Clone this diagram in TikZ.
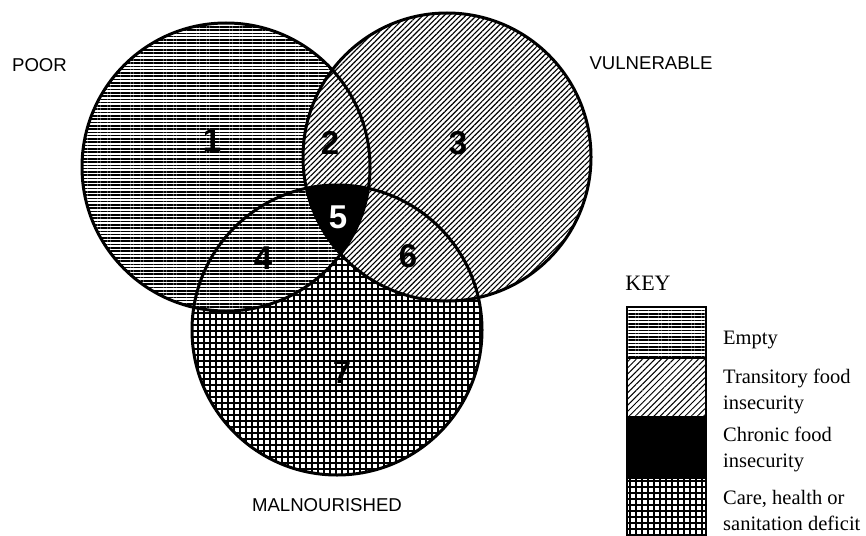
\documentclass[tikz,border=0pt]{standalone}
\usepackage{fontspec}
\setmainfont{Liberation Serif}
\setsansfont{Liberation Sans}
\usetikzlibrary{patterns.meta}
\begin{document}
\begin{tikzpicture}[x=1pt,y=-1pt,
  hpat/.style={preaction={fill=white},pattern={Lines[angle=0,distance=3.3pt,line width=1.6pt]}},
  dpat/.style={preaction={fill=white},pattern={Lines[angle=45,distance=3.8pt,line width=1.1pt]}},
  kdpat/.style={preaction={fill=white},pattern={Lines[angle=45,distance=4.4pt,line width=1pt]}},
  gpat/.style={preaction={fill=white},pattern={Hatch[angle=0,distance=6pt,line width=1.2pt]}},
  outline/.style={draw=black,line width=3pt},
  setlabel/.style={font=\sffamily\fontsize{18.6}{20}\selectfont},
  num/.style={font=\sffamily\bfseries\fontsize{33}{35}\selectfont,inner sep=0pt},
  keytext/.style={font=\fontsize{20.5}{26}\selectfont,align=left,anchor=west,inner sep=0pt},
  keybox/.style={draw=black,line width=1.5pt}]
\useasboundingbox (0,0) rectangle (866,535);
% circles
\coordinate (cP) at (226,167);
\coordinate (cV) at (447,157);
\coordinate (cM) at (337,330);
\fill[gpat] (cM) circle (145);
\fill[hpat] (cP) circle (144);
\fill[dpat] (cV) circle (144);
\begin{scope}
  \clip (cP) circle (144);
  \clip (cV) circle (144);
  \fill[black] (cM) circle (145);
\end{scope}
\draw[outline] (cM) circle (145);
\draw[outline] (cP) circle (144);
\draw[outline] (cV) circle (144);
% set labels
\node[setlabel] (poor) at (39.5,65) {POOR};
\node[setlabel] (vuln) at (651,63) {VULNERABLE};
\node[setlabel] (mal) at (327,505) {MALNOURISHED};
% region numbers
\node[num] (n1) at (212,140) {1};
\node[num] (n2) at (330,143) {2};
\node[num] (n3) at (458,143) {3};
\node[num] (n4) at (263,258) {4};
\node[num,text=white] (n5) at (338,217) {5};
\node[num] (n6) at (408,256) {6};
\node[num] (n7) at (342,372) {7};
% key
\node[font=\fontsize{22}{24}\selectfont] (key) at (648,283) {KEY};
\fill[hpat] (627,307) rectangle (706,358);
\fill[kdpat] (627,358) rectangle (706,417);
\fill[black] (627,417) rectangle (706,478);
\fill[gpat] (627,478) rectangle (706,540);
\draw[keybox] (627,540) -- (627,307) -- (706,307) -- (706,540);
\draw[keybox] (627,358) -- (706,358);
\draw[keybox] (627,417) -- (706,417);
\draw[keybox] (627,478) -- (706,478);
\node[keytext] (k1) at (723,340) {Empty};
\node[keytext] (k2) at (723,391) {Transitory food\\insecurity};
\node[keytext] (k3) at (723,449) {Chronic food\\insecurity};
\node[keytext] (k4) at (723,510) {Care, health or\\sanitation deficit};
\end{tikzpicture}
\end{document}
